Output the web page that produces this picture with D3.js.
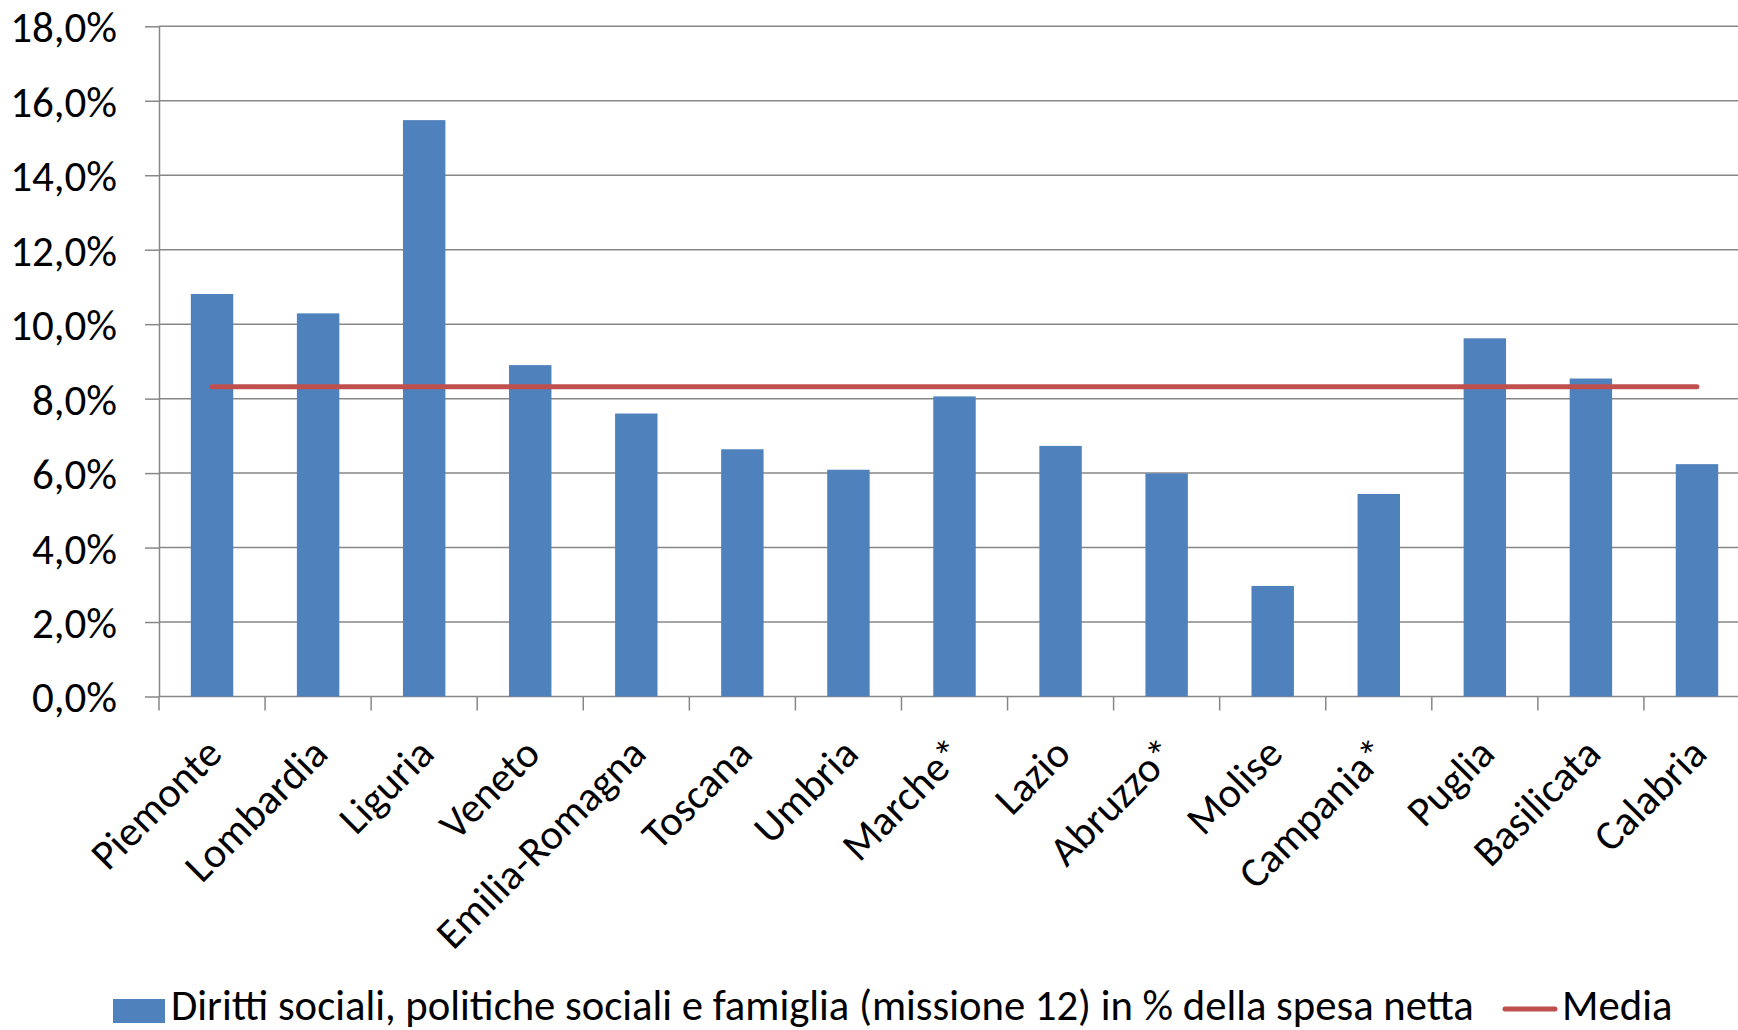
<!DOCTYPE html>
<html>
<head>
<meta charset="utf-8">
<script src="https://cdn.jsdelivr.net/npm/d3@7"></script>
<style>
  body { margin: 0; background: #fff; }
  svg { display: block; font-family: Carlito, Calibri, Lato, sans-serif; }
</style>
</head>
<body>
<svg id="main-chart"></svg>
<script>
// data
const regions = ["Piemonte", "Lombardia", "Liguria", "Veneto", "Emilia-Romagna", "Toscana", "Umbria",
  "Marche*", "Lazio", "Abruzzo*", "Molise", "Campania*", "Puglia", "Basilicata", "Calabria"];
const spesa = [10.81, 10.29, 15.48, 8.90, 7.60, 6.64, 6.09, 8.06, 6.73, 5.99, 2.97, 5.44, 9.62, 8.54, 6.24];
const media = [8.32, 8.32, 8.32, 8.32, 8.32, 8.32, 8.32, 8.32, 8.32, 8.32, 8.32, 8.32, 8.32, 8.32, 8.32];
const yTicks = [0, 2, 4, 6, 8, 10, 12, 14, 16, 18];
const seriesNames = ["Diritti sociali, politiche sociali e famiglia (missione 12) in % della spesa netta", "Media"];

const width = 1738;
const height = 1030;
const blue = "#4F81BD";
const red = "#C0504D";
const grey = "#878787";

const svg = d3.select("#main-chart")
  .attr("width", width)
  .attr("height", height);

const y = d3.scaleLinear()
  .domain([0, 18])
  .range([696.5, 26.3]);

// chart is cut off on the right in the original, so the band range runs past the svg edge
const x = d3.scaleBand()
  .domain(regions)
  .range([159, 1750])
  .paddingInner(0.6)
  .paddingOuter(0.3);
const step = x.step();

// gridlines
svg.append("g")
  .selectAll("line")
  .data(yTicks)
  .join("line")
  .attr("x1", 159)
  .attr("x2", 1750)
  .attr("y1", d => y(d))
  .attr("y2", d => y(d))
  .attr("stroke", grey)
  .attr("stroke-width", 1.5);

// bars
svg.append("g")
  .selectAll("rect")
  .data(regions)
  .join("rect")
  .attr("x", d => x(d))
  .attr("y", (d, i) => y(spesa[i]))
  .attr("width", x.bandwidth())
  .attr("height", (d, i) => y(0) - y(spesa[i]))
  .attr("fill", blue);

// y axis
const yAxis = g => g
  .attr("transform", "translate(159,0)")
  .call(d3.axisLeft(y)
    .tickValues(yTicks)
    .tickSize(14)
    .tickSizeOuter(0)
    .tickPadding(28)
    .tickFormat(d => d3.format(".1f")(d).replace(".", ",") + "%"))
  .call(g => g.attr("font-family", null).attr("font-size", null))
  .call(g => g.selectAll("line, path").attr("stroke", grey).attr("stroke-width", 1.5))
  .call(g => g.selectAll("text")
    .attr("font-size", 43)
    .attr("fill", "#000")
    .attr("dy", "0.36em"));
svg.append("g").call(yAxis);

// x axis: ticks between categories
const xg = svg.append("g");
xg.selectAll("line")
  .data(d3.range(regions.length + 1))
  .join("line")
  .attr("x1", i => x.range()[0] + i * step)
  .attr("x2", i => x.range()[0] + i * step)
  .attr("y1", y(0))
  .attr("y2", y(0) + 14)
  .attr("stroke", grey)
  .attr("stroke-width", 1.5);
xg.selectAll("text")
  .data(regions)
  .join("text")
  .attr("transform", d => `translate(${x(d) + x.bandwidth() / 2 + 12},756) rotate(-45)`)
  .attr("text-anchor", "end")
  .attr("font-size", 42)
  .text(d => d);

// media line
const line = d3.line()
  .x((d, i) => x(regions[i]) + x.bandwidth() / 2)
  .y(d => y(d));
svg.append("path")
  .datum(media)
  .attr("d", line)
  .attr("fill", "none")
  .attr("stroke", red)
  .attr("stroke-width", 5)
  .attr("stroke-linecap", "round");

// legend
const legend = svg.append("g");
legend.append("rect")
  .attr("x", 113).attr("y", 999)
  .attr("width", 52).attr("height", 24)
  .attr("fill", blue);
legend.append("text")
  .attr("x", 171).attr("y", 1020)
  .attr("font-size", 42.7)
  .text(seriesNames[0]);
legend.append("line")
  .attr("x1", 1505).attr("x2", 1555)
  .attr("y1", 1009).attr("y2", 1009)
  .attr("stroke", red)
  .attr("stroke-width", 5)
  .attr("stroke-linecap", "round");
legend.append("text")
  .attr("x", 1562).attr("y", 1020)
  .attr("font-size", 42.7)
  .text(seriesNames[1]);
</script>
</body>
</html>
